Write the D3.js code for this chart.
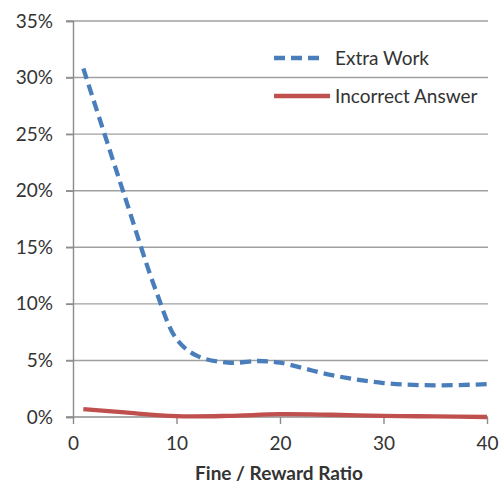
<!DOCTYPE html>
<html><head><meta charset="utf-8">
<script src="https://cdn.jsdelivr.net/npm/d3@7"></script>
<style>body{margin:0;background:#fff;} text{font-family:Lato, "Open Sans", sans-serif;}</style>
</head><body>
<svg id="c" width="504" height="486"></svg>
<script>
const extraX = [1, 5, 8, 10, 12, 15, 18, 20, 25, 30, 35, 40];
const extraY = [30.8, 19.5, 11.2, 6.9, 5.4, 4.8, 4.95, 4.8, 3.7, 3.0, 2.8, 2.9];
const incorrX = [1, 5, 10, 15, 20, 25, 30, 35, 40];
const incorrY = [0.7, 0.4, 0.08, 0.1, 0.25, 0.2, 0.1, 0.05, 0.0];
const xTicks = [0, 10, 20, 30, 40];
const yTicks = [0, 5, 10, 15, 20, 25, 30, 35];
const seriesNames = ["Extra Work", "Incorrect Answer"];
const colors = ["#4a7ebb", "#c0504d"];

const svg = d3.select("#c");
const x = d3.scaleLinear().domain([0, 40]).range([73, 487]);
const y = d3.scaleLinear().domain([0, 35]).range([417, 21]);

// gridlines
svg.append("g").selectAll("line").data(yTicks.filter(d => d > 0)).join("line")
  .attr("x1", 66).attr("x2", 488).attr("y1", d => y(d)).attr("y2", d => y(d))
  .attr("stroke", "#a0a0a0").attr("stroke-width", 1.4);

// y axis
const yAxis = svg.append("g").attr("transform", "translate(73,0)")
  .call(d3.axisLeft(y).tickValues(yTicks).tickFormat(d => d + "%").tickSize(7).tickPadding(13));
yAxis.select(".domain").attr("stroke", "#8c8c8c").attr("stroke-width", 1.4);
yAxis.selectAll(".tick line").attr("stroke", "#8c8c8c").attr("stroke-width", 1.4);
yAxis.selectAll("text").attr("font-size", 19).attr("fill", "#333").attr("font-family", "Lato, sans-serif");

// x axis
const xAxis = svg.append("g").attr("transform", "translate(0,417)")
  .call(d3.axisBottom(x).tickValues(xTicks).tickSize(7).tickSizeOuter(0).tickPadding(13));
xAxis.select(".domain").attr("stroke", "#8c8c8c").attr("stroke-width", 1.4).attr("d", "M66,0H488");
xAxis.selectAll(".tick line").attr("stroke", "#8c8c8c").attr("stroke-width", 1.4);
xAxis.selectAll("text").attr("font-size", 19).attr("fill", "#333").attr("font-family", "Lato, sans-serif");

svg.append("text").attr("x", 279).attr("y", 473).attr("dy", "0.35em").attr("text-anchor", "middle")
  .attr("font-size", 19).attr("font-weight", "bold").attr("fill", "#333")
  .text("Fine / Reward Ratio");

const line = d3.line().x(d => x(d[0])).y(d => y(d[1])).curve(d3.curveCatmullRom.alpha(0.5));

svg.append("path").datum(extraX.map((v, i) => [v, extraY[i]]))
  .attr("d", line).attr("fill", "none").attr("stroke", colors[0]).attr("stroke-width", 4.3)
  .attr("stroke-dasharray", "11,6");
svg.append("path").datum(incorrX.map((v, i) => [v, incorrY[i]]))
  .attr("d", line).attr("fill", "none").attr("stroke", colors[1]).attr("stroke-width", 4.3);

// legend
const leg = svg.append("g");
const legY = [58, 96];
seriesNames.forEach((name, i) => {
  leg.append("line").attr("x1", 274).attr("x2", i === 0 ? 322 : 330)
    .attr("y1", legY[i]).attr("y2", legY[i])
    .attr("stroke", colors[i]).attr("stroke-width", 4.3)
    .attr("stroke-dasharray", i === 0 ? "11,6" : null);
  leg.append("text").attr("x", 335).attr("y", legY[i]).attr("dy", "0.35em")
    .attr("font-size", 19).attr("fill", "#333").text(name);
});
</script>
</body></html>
